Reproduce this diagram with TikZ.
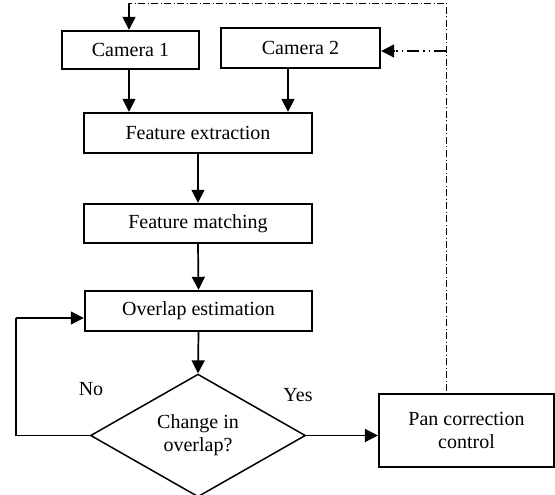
\documentclass[tikz,border=0pt]{standalone}
\usepackage{fontspec}
\setmainfont{Liberation Serif}
\usetikzlibrary{arrows.meta,shapes.geometric}
\begin{document}
\begin{tikzpicture}[x=1pt,y=-1pt,
  txt/.style={font=\fontsize{20}{23}\selectfont},
  box/.style={draw, line width=2.4pt, rectangle, inner sep=0pt, txt, align=center},
  arr/.style={line width=1.7pt, -{Triangle[length=13pt,width=13pt]}},
  dashdot/.style={line width=0.9pt, dash pattern=on 7pt off 2.5pt on 1pt off 2.5pt},
  dashdotdot/.style={line width=1.4pt, dash pattern=on 12pt off 4pt on 1.5pt off 4pt on 1.5pt off 4pt}]
\useasboundingbox (0,0) rectangle (555,495);
\node[box, minimum width=137pt, minimum height=38pt] (cam1) at (130.5,50) {Camera 1};
\node[box, minimum width=159pt, minimum height=40pt] (cam2) at (300.5,48) {Camera 2};
\node[box, minimum width=228pt, minimum height=40pt] (fe) at (198,133) {Feature extraction};
\node[box, minimum width=228pt, minimum height=39pt] (fm) at (198,223.5) {Feature matching};
\node[box, minimum width=227pt, minimum height=40pt] (ov) at (198.5,311) {Overlap estimation};
\node[draw, diamond, line width=1.5pt, inner sep=0pt, minimum width=215pt, minimum height=115pt, txt, align=center] (dia) at (198,435.5) {Change in\\overlap?};
\node[box, line width=2.2pt, minimum width=175pt, minimum height=73pt] (pan) at (466.5,430.5) {Pan correction\\control};
\node[txt] (no) at (91,389) {No};
\node[txt] (yes) at (298,395) {Yes};
% coordinates
\coordinate (c1b) at (129,69);
\coordinate (c2b) at (288,68);
\coordinate (fb1) at (129,3);
\coordinate (fbr) at (446,3);
\coordinate (fbb) at (446,391);
\coordinate (fbc2) at (446,51);
\coordinate (lp1) at (16,434);
\coordinate (lp2) at (16,318);
% connectors
\draw[arr] (c1b) -- (c1b |- fe.north);
\draw[arr] (c2b) -- (c2b |- fe.north);
\draw[arr] (fe.south) -- (fm.north);
\draw[arr] (fm.south) -- (ov.north);
\draw[arr] (ov.south) -- (dia.north);
\draw[arr] (dia.east) -- (pan.west |- dia.east);
\draw[line width=1.4pt] (dia.west) -- (dia.west -| lp1) -- (lp2);
\draw[arr] (lp2) -- (lp2 -| ov.west);
\draw[dashdot] (fbb) -- (fbr) -- (fb1);
\draw[arr] (fb1) -- (fb1 |- cam1.north);
\draw[dashdotdot] (fbc2) -- ([xshift=12pt]fbc2 -| cam2.east);
\draw[arr] ([xshift=14pt]fbc2 -| cam2.east) -- (fbc2 -| cam2.east);
\end{tikzpicture}
\end{document}
